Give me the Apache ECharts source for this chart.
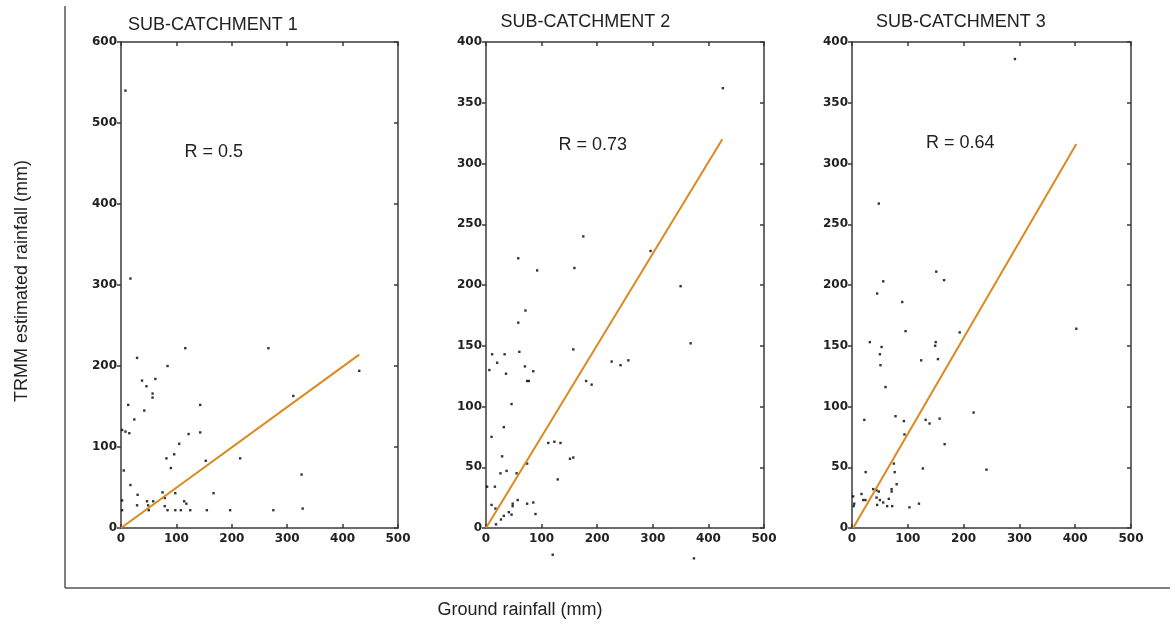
<!DOCTYPE html>
<html>
<head>
<meta charset="utf-8">
<script src="https://cdn.jsdelivr.net/npm/echarts@6/dist/echarts.min.js"></script>
<style>html,body{margin:0;padding:0;background:#fff}#c{width:1175px;height:628px}</style>
</head>
<body>
<div id="c"></div>
<script>
// ---- data ----
var panelTitles = ['SUB-CATCHMENT 1', 'SUB-CATCHMENT 2', 'SUB-CATCHMENT 3'];
var rLabels = ['R = 0.5', 'R = 0.73', 'R = 0.64'];
var xTicks = [0, 100, 200, 300, 400, 500];
var yMax = [600, 400, 400];
var yStep = [100, 50, 50];

var pts1 = [[8,540],[17,308],[29,210],[84,200],[116,222],[266,222],[38,182],[62,184],[46,175],[57,166],[57,161],[13,152],[143,152],[42,145],[24,134],[2,121],[8,119],[15,117],[122,116],[143,118],[105,104],[96,91],[82,86],[153,83],[215,86],[90,74],[5,71],[311,163],[430,194],[326,66],[17,53],[30,41],[75,44],[98,43],[167,43],[79,37],[2,34],[47,33],[58,33],[114,33],[118,30],[29,28],[49,28],[79,27],[2,22],[50,22],[84,22],[98,22],[108,22],[125,22],[155,22],[197,22],[275,22],[328,24]];
var pts2 = [[426,362],[175,240],[296,228],[58,222],[92,212],[159,214],[350,199],[71,179],[58,169],[11,143],[33.5,143],[60,145],[157,147],[20,136],[6,130],[36,127],[70,133],[85,129],[74,121],[77,121],[180,121],[190,118],[226,137],[242,134],[256,138],[368,152],[46,102],[32,83],[10,75],[29,59],[37,47],[26,45],[55,45],[74,53],[112,70],[123,71],[134,70],[151,57],[157,58],[129,40],[2,34],[16,34],[10,19],[17,16],[48,20],[48,18],[57,23],[74,20],[85,21],[41,13],[46,11],[32,10],[27,7],[18,3],[89,11.5],[120,-22],[374,-25]];
var pts3 = [[292,386],[48,267],[151,211],[165,204],[56,203],[45,193],[90,186],[96,162],[193,161],[32,153],[53,149],[50,143],[51,134],[150,153],[149,150],[124,138],[154,139],[60,116],[402,164],[22,89],[78,92],[93,88],[132,89],[139,86],[157,90],[218,95],[94,77],[166,69],[75,53],[24.5,46],[76.5,46],[127,49],[241,48],[80,36],[38,32],[44,31],[48,30],[71,32],[71,30],[17,28],[2,26],[20,23],[24,23],[44,25],[50,23],[66,24],[56,21],[45,19],[63,18],[72,18],[3,18],[4,20],[103,17],[120,20]];

var fit1 = [[0,0],[430,214]];
var fit2 = [[0,0],[425,320]];
var fit3 = [[2,0],[402,316]];

var allPts = [pts1, pts2, pts3];
var allFits = [fit1, fit2, fit3];

// ---- layout ----
var gridLeft = [121, 486, 852];
var gridWidth = [277, 278, 279];
var titlePos = [[128, 16.5], [500.5, 13], [876, 13]];
var rPos = [[184.5, 143], [558.5, 136.5], [926, 134]];

var axisColor = '#3a3a3a';
var tickFont = { color: '#222', fontFamily: 'DejaVu Sans', fontWeight: 'bold', fontSize: 12 };
var textFont = { color: '#222', fontFamily: 'Liberation Sans', fontWeight: 'normal', fontSize: 18 };

var grid = [], xAxis = [], yAxis = [], series = [], title = [];
for (var i = 0; i < 3; i++) {
  grid.push({ left: gridLeft[i], width: gridWidth[i], top: 42, height: 486 });
  xAxis.push({
    type: 'value', gridIndex: i, min: 0, max: 500, interval: 100, position: 'bottom',
    splitLine: { show: false },
    axisLine: { show: true, lineStyle: { color: axisColor, width: 1.5 } },
    axisTick: { show: true, inside: true, length: 4, lineStyle: { color: axisColor, width: 1.5 } },
    axisLabel: Object.assign({ margin: 5 }, tickFont)
  });
  xAxis.push({
    type: 'value', gridIndex: i, min: 0, max: 500, interval: 100, position: 'top',
    splitLine: { show: false },
    axisLine: { show: true, onZero: false, lineStyle: { color: axisColor, width: 1.5 } },
    axisTick: { show: true, inside: true, length: 4, lineStyle: { color: axisColor, width: 1.5 } },
    axisLabel: { show: false }
  });
  yAxis.push({
    type: 'value', gridIndex: i, min: 0, max: yMax[i], interval: yStep[i], position: 'left',
    splitLine: { show: false },
    axisLine: { show: true, onZero: false, lineStyle: { color: axisColor, width: 1.5 } },
    axisTick: { show: true, inside: false, length: 4, lineStyle: { color: axisColor, width: 1.5 } },
    axisLabel: Object.assign({ margin: 4 }, tickFont)
  });
  yAxis.push({
    type: 'value', gridIndex: i, min: 0, max: yMax[i], interval: yStep[i], position: 'right',
    splitLine: { show: false },
    axisLine: { show: true, onZero: false, lineStyle: { color: axisColor, width: 1.5 } },
    axisTick: { show: true, inside: true, length: 4, lineStyle: { color: axisColor, width: 1.5 } },
    axisLabel: { show: false }
  });
  series.push({
    type: 'scatter', xAxisIndex: 2 * i, yAxisIndex: 2 * i, data: allPts[i],
    symbol: 'rect', symbolSize: 2.4, clip: false, silent: true,
    itemStyle: { color: '#000' }
  });
  series.push({
    type: 'line', xAxisIndex: 2 * i, yAxisIndex: 2 * i, data: allFits[i],
    symbol: 'none', silent: true,
    lineStyle: { color: '#DA8A1F', width: 2 }
  });
  title.push({ text: panelTitles[i], left: titlePos[i][0], top: titlePos[i][1], padding: 0, textStyle: textFont });
  title.push({ text: rLabels[i], left: rPos[i][0], top: rPos[i][1], padding: 0, textStyle: textFont });
}

var chart = echarts.init(document.getElementById('c'), null, { renderer: 'canvas' });
chart.setOption({
  animation: false,
  backgroundColor: '#fff',
  title: title,
  grid: grid,
  xAxis: xAxis,
  yAxis: yAxis,
  series: series,
  graphic: [
    { type: 'line', shape: { x1: 65, y1: 6, x2: 65, y2: 588 }, style: { stroke: '#555', lineWidth: 1.5 } },
    { type: 'line', shape: { x1: 65, y1: 588, x2: 1170, y2: 588 }, style: { stroke: '#555', lineWidth: 1.5 } },
    { type: 'text', x: 22, y: 281, rotation: Math.PI / 2,
      style: { text: 'TRMM estimated rainfall (mm)', fill: '#222', font: '18px "Liberation Sans"', align: 'center', verticalAlign: 'middle' } },
    { type: 'text', x: 520, y: 610,
      style: { text: 'Ground rainfall (mm)', fill: '#222', font: '18px "Liberation Sans"', align: 'center', verticalAlign: 'middle' } }
  ]
});
</script>
</body>
</html>
